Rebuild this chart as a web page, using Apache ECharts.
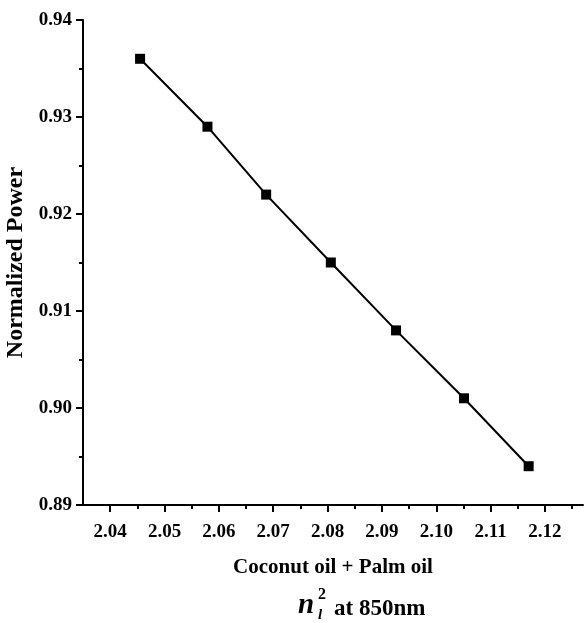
<!DOCTYPE html>
<html>
<head>
<meta charset="utf-8">
<script src="https://cdn.jsdelivr.net/npm/echarts@6/dist/echarts.min.js"></script>
<style>
html,body{margin:0;padding:0;background:#fff;}
#chart{width:584px;height:623px;}
</style>
</head>
<body>
<div id="chart"></div>
<script>
const refractiveIndex = [2.0455, 2.0579, 2.0687, 2.0806, 2.0926, 2.1051, 2.1170];
const normalizedPower = [0.936, 0.929, 0.922, 0.915, 0.908, 0.901, 0.894];
const xMajorTicks = [2.04, 2.05, 2.06, 2.07, 2.08, 2.09, 2.10, 2.11, 2.12];
const xMinorTicks = [2.045, 2.055, 2.065, 2.075, 2.085, 2.095, 2.105, 2.115, 2.125];
const xAxisTitle = 'Coconut oil + Palm oil';
const yAxisTitle = 'Normalized Power';

const FONT = '"Liberation Serif", "Times New Roman", serif';
const chart = echarts.init(document.getElementById('chart'), null, {renderer: 'canvas'});

const option = {
  animation: false,
  backgroundColor: '#fff',
  grid: {left: 83, top: 20, right: 1, bottom: 118, containLabel: false, outerBoundsMode: 'none'},
  xAxis: [{
    type: 'value', min: 2.035, max: 2.127,
    axisLine: {show: true, lineStyle: {color: '#000', width: 2}},
    axisTick: {show: true, customValues: xMajorTicks, length: 7, inside: false, lineStyle: {color: '#000', width: 2}},
    axisLabel: {show: true, customValues: xMajorTicks, margin: 18, color: '#000', fontFamily: FONT, fontWeight: 'bold', fontSize: 19,
      formatter: v => Number(v).toFixed(2)},
    splitLine: {show: false},
    name: xAxisTitle, nameLocation: 'middle', nameGap: 52,
    nameTextStyle: {color: '#000', fontFamily: FONT, fontWeight: 'bold', fontSize: 21}
  }, {
    type: 'value', min: 2.035, max: 2.127, position: 'bottom',
    axisLine: {show: false},
    axisTick: {show: true, customValues: xMinorTicks, length: 4, lineStyle: {color: '#000', width: 2}},
    axisLabel: {show: false},
    splitLine: {show: false}
  }],
  yAxis: {
    type: 'value', min: 0.89, max: 0.94, interval: 0.01,
    axisLine: {show: true, lineStyle: {color: '#000', width: 2}},
    axisTick: {show: true, length: 7, lineStyle: {color: '#000', width: 2}},
    minorTick: {show: true, splitNumber: 2, length: 4, lineStyle: {color: '#000', width: 2}},
    axisLabel: {margin: 11, color: '#000', fontFamily: FONT, fontWeight: 'bold', fontSize: 19,
      formatter: v => Number(v).toFixed(2)},
    splitLine: {show: false},
    name: yAxisTitle, nameLocation: 'middle', nameGap: 52,
    nameTextStyle: {color: '#000', fontFamily: FONT, fontWeight: 'bold', fontSize: 24}
  },
  graphic: [
    {type: 'text', left: 298, top: 591, style: {text: 'n', font: 'italic bold 29px ' + FONT, fill: '#000'}},
    {type: 'text', left: 318, top: 587, style: {text: '2', font: 'bold 16px ' + FONT, fill: '#000'}},
    {type: 'text', left: 318, top: 608, style: {text: 'l', font: 'italic bold 15px ' + FONT, fill: '#000'}},
    {type: 'text', left: 334, top: 598, style: {text: 'at 850nm', font: 'bold 23px ' + FONT, fill: '#000'}}
  ],
  series: [{
    type: 'line',
    xAxisIndex: 0,
    data: refractiveIndex.map((x, i) => [x, normalizedPower[i]]),
    symbol: 'rect', symbolSize: 10,
    itemStyle: {color: '#000'},
    lineStyle: {color: '#000', width: 2},
    silent: true
  }]
};
chart.setOption(option);
</script>
</body>
</html>
